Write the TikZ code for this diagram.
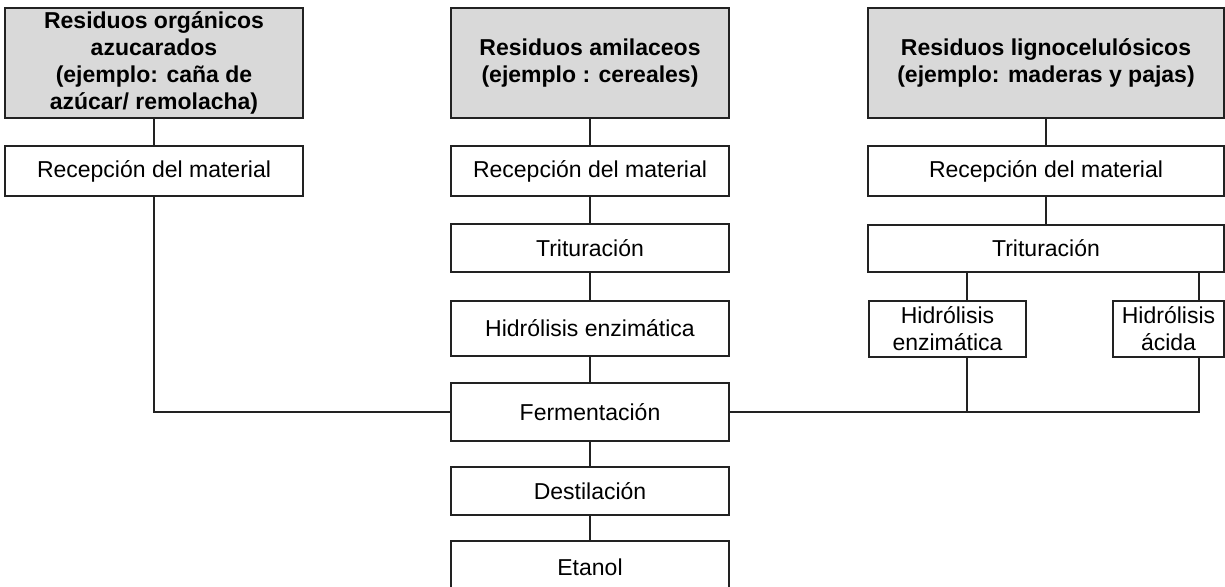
\documentclass[tikz,border=0pt]{standalone}
\usepackage{fontspec}
\setmainfont{Liberation Sans}
\definecolor{linec}{HTML}{222222}
\definecolor{headc}{HTML}{D9D9D9}
\tikzset{
  box/.style={draw=linec, line width=0.9pt, fill=white, inner sep=1pt, align=center,
    font=\fontsize{11.5}{13.4}\selectfont},
  headbox/.style={box, fill=headc, font=\fontsize{11.5}{13.4}\selectfont\bfseries},
  link/.style={draw=linec, line width=0.9pt}
}
\begin{document}
\begin{tikzpicture}[x=0.5pt,y=-0.5pt]
\useasboundingbox (0,0) rectangle (1225,586);
\clip (0,0) rectangle (1225,586);

% azucarados
\node[headbox, minimum width=149pt, minimum height=55pt] (lhead) at (154,63)
  {Residuos orgánicos\\azucarados\\(ejemplo: caña de\\azúcar/ remolacha)};
\node[box, minimum width=149pt, minimum height=25pt] (lrec) at (154,171) {Recepción del material};

% amilaceos
\node[headbox, minimum width=139pt, minimum height=55pt] (mhead) at (590,63)
  {Residuos amilaceos\\(ejemplo : cereales)};
\node[box, minimum width=139pt, minimum height=25pt] (mrec) at (590,171) {Recepción del material};
\node[box, minimum width=139pt, minimum height=24pt] (mtrit) at (590,248) {Trituración};
\node[box, minimum width=139pt, minimum height=27.5pt] (mhid) at (590,328.5) {Hidrólisis enzimática};
\node[box, minimum width=139pt, minimum height=29pt] (ferm) at (590,412) {Fermentación};
\node[box, minimum width=139pt, minimum height=24pt] (dest) at (590,491) {Destilación};
\node[box, minimum width=139pt, minimum height=32pt, text depth=6pt] (etanol) at (590,573) {Etanol};

% lignocelulosicos
\node[headbox, minimum width=178pt, minimum height=55pt] (rhead) at (1046,63)
  {Residuos lignocelulósicos\\(ejemplo: maderas y pajas)};
\node[box, minimum width=178pt, minimum height=25pt] (rrec) at (1046,171) {Recepción del material};
\node[box, minimum width=178pt, minimum height=23.5pt] (rtrit) at (1046,248.5) {Trituración};
\node[box, minimum width=78.5pt, minimum height=28pt] (renz) at (947.5,329) {Hidrólisis\\enzimática};
\node[box, minimum width=55.5pt, minimum height=28pt] (racid) at (1168.5,329) {Hidrólisis\\ácida};

\coordinate (ej) at (967,0);
\coordinate (ac) at (1199,0);

\draw[link] (lhead) -- (lrec);
\draw[link] (lrec.south) |- (ferm.west);

\draw[link] (mhead) -- (mrec);
\draw[link] (mrec) -- (mtrit);
\draw[link] (mtrit) -- (mhid);
\draw[link] (mhid) -- (ferm);
\draw[link] (ferm) -- (dest);
\draw[link] (dest) -- (etanol);

\draw[link] (rhead) -- (rrec);
\draw[link] (rrec) -- (rtrit);
\draw[link] (rtrit.south -| ej) -- (renz.north -| ej);
\draw[link] (rtrit.south -| ac) -- (racid.north -| ac);
\draw[link] (renz.south -| ej) -- (ferm.east -| ej);
\draw[link] (racid.south -| ac) |- (ferm.east);

\end{tikzpicture}
\end{document}
